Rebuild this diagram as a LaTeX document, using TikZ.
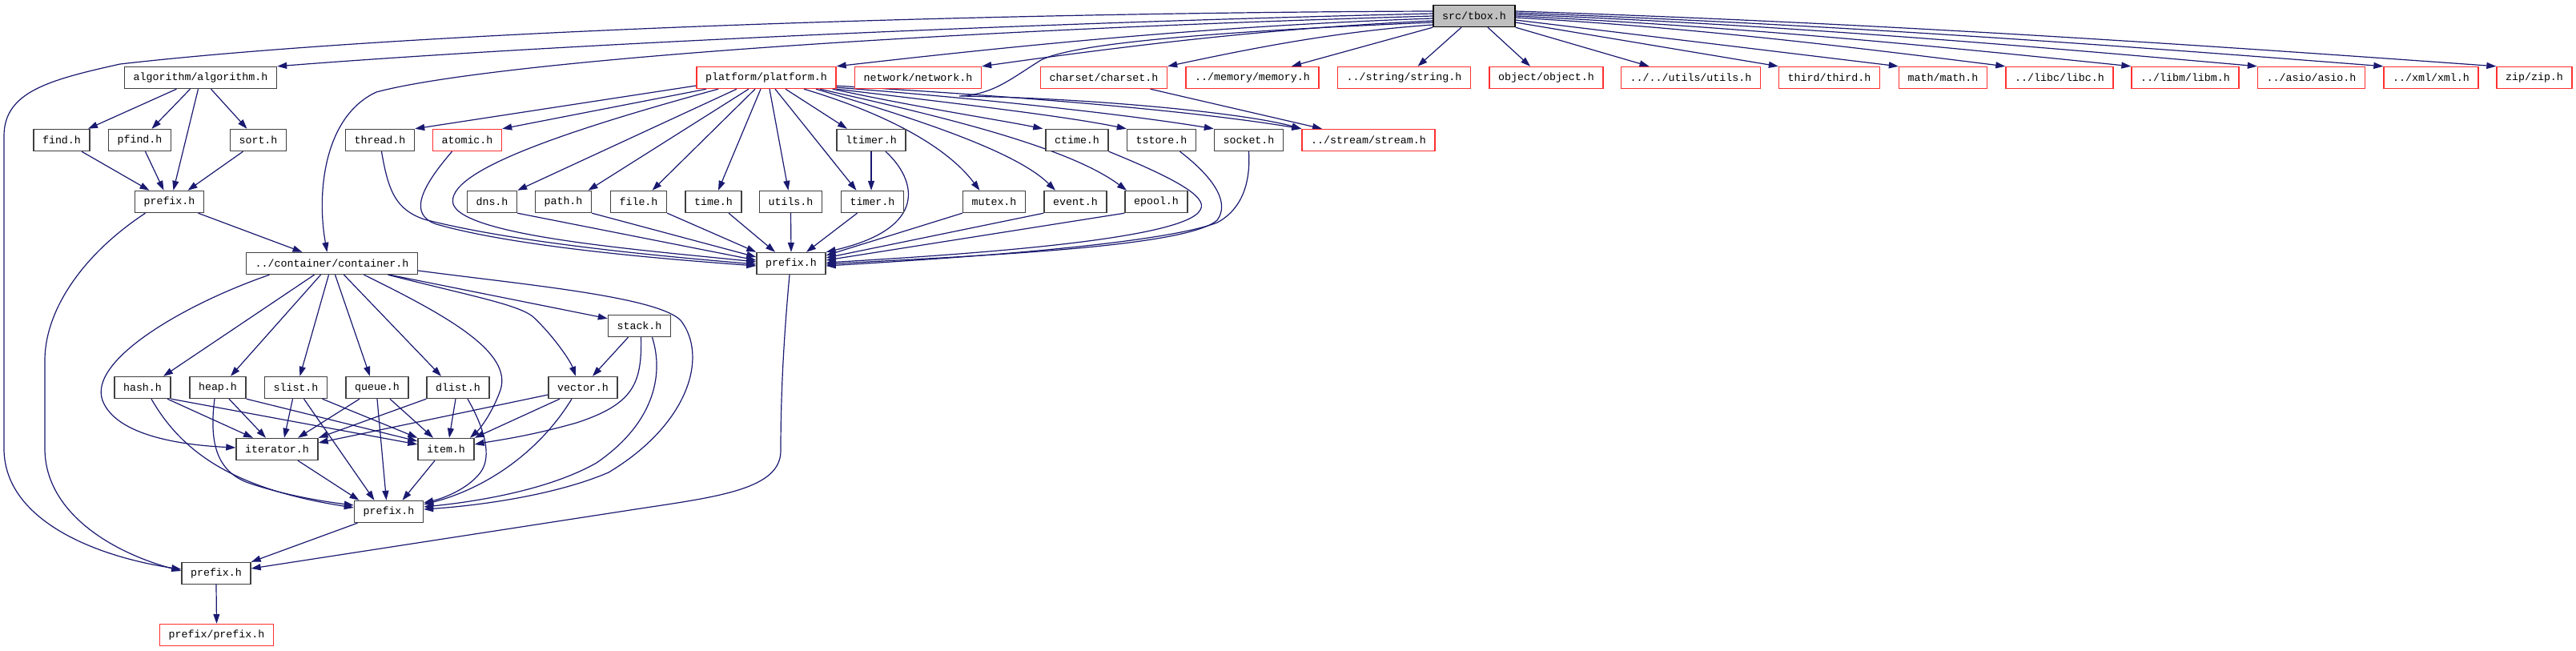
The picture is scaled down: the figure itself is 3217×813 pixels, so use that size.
\documentclass[tikz,border=0pt]{standalone}
\usepackage{fontspec}
\setmonofont{Liberation Mono}
\usetikzlibrary{arrows.meta}
\definecolor{edgec}{HTML}{191970}
\definecolor{bordc}{HTML}{404040}
\definecolor{redc}{HTML}{FF3030}
\definecolor{rootc}{HTML}{BFBFBF}
\pgfdeclarelayer{background}
\pgfsetlayers{background,main}
\begin{document}
\begin{tikzpicture}[x=1pt,y=-1pt,
 box/.style={draw=bordc, fill=white, line width=1.4pt, minimum height=27pt, inner sep=0pt, font=\ttfamily\fontsize{13.3}{15}\selectfont, text=black},
 rbox/.style={box, draw=redc},
 dep/.style={draw=edgec, line width=1.2pt, -{Triangle[length=12pt,width=8pt]}}]
\useasboundingbox (0,0) rectangle (3217,813);
% row 0
\node[box, fill=rootc, draw=black, minimum width=102pt] (tbox) at (1841,20) {src/tbox.h};
% row 1
\node[box, minimum width=190pt] (algorithm) at (250.5,97) {algorithm/algorithm.h};
\node[rbox, minimum width=174pt] (platform) at (957,97) {platform/platform.h};
\node[rbox, minimum width=158pt] (network) at (1146.5,97) {network/network.h};
\node[rbox, minimum width=158pt] (charset) at (1378.5,97) {charset/charset.h};
\node[rbox, minimum width=166pt] (memory) at (1564,97) {../memory/memory.h};
\node[rbox, minimum width=166pt] (string) at (1753.5,97) {../string/string.h};
\node[rbox, minimum width=142pt] (object) at (1931,97) {object/object.h};
\node[rbox, minimum width=174pt] (utilsu) at (2111.5,97) {../../utils/utils.h};
\node[rbox, minimum width=126pt] (third) at (2284.5,97) {third/third.h};
\node[rbox, minimum width=110pt] (math) at (2426.5,97) {math/math.h};
\node[rbox, minimum width=134pt] (libc) at (2572,97) {../libc/libc.h};
\node[rbox, minimum width=134pt] (libm) at (2729,97) {../libm/libm.h};
\node[rbox, minimum width=134pt] (asio) at (2886.5,97) {../asio/asio.h};
\node[rbox, minimum width=118pt] (xml) at (3036,97) {../xml/xml.h};
\node[rbox, minimum width=94pt] (zip) at (3165,97) {zip/zip.h};
% row 2
\node[box, minimum width=70pt] (find) at (77,175) {find.h};
\node[box, minimum width=78pt] (pfind) at (174.5,175) {pfind.h};
\node[box, minimum width=70pt] (sort) at (322.5,175) {sort.h};
\node[box, minimum width=86pt] (thread) at (474.5,175) {thread.h};
\node[rbox, minimum width=86pt] (atomic) at (583.5,175) {atomic.h};
\node[box, minimum width=86pt] (ltimer) at (1088,175) {ltimer.h};
\node[box, minimum width=78pt] (ctime) at (1345,175) {ctime.h};
\node[box, minimum width=86pt] (tstore) at (1450.5,175) {tstore.h};
\node[box, minimum width=86pt] (socket) at (1559.5,175) {socket.h};
\node[rbox, minimum width=166pt] (stream) at (1709,175) {../stream/stream.h};
% row 3
\node[box, minimum width=86pt] (prefA) at (211.5,252) {prefix.h};
\node[box, minimum width=62pt] (dns) at (614.5,252) {dns.h};
\node[box, minimum width=70pt] (path) at (703.5,252) {path.h};
\node[box, minimum width=70pt] (file) at (797.5,252) {file.h};
\node[box, minimum width=70pt] (time) at (891,252) {time.h};
\node[box, minimum width=78pt] (utilsh) at (987.5,252) {utils.h};
\node[box, minimum width=78pt] (timer) at (1089.5,252) {timer.h};
\node[box, minimum width=78pt] (mutex) at (1241.5,252) {mutex.h};
\node[box, minimum width=78pt] (event) at (1343,252) {event.h};
\node[box, minimum width=78pt] (epool) at (1444,252) {epool.h};
% row 4
\node[box, minimum width=214pt] (container) at (414.5,329) {../container/container.h};
\node[box, minimum width=86pt] (prefP) at (988,329) {prefix.h};
% row 5
\node[box, minimum width=78pt] (stack) at (798.5,407) {stack.h};
% row 6
\node[box, minimum width=70pt] (hash) at (178,484) {hash.h};
\node[box, minimum width=70pt] (heap) at (272,484) {heap.h};
\node[box, minimum width=78pt] (slist) at (369.5,484) {slist.h};
\node[box, minimum width=78pt] (queue) at (471,484) {queue.h};
\node[box, minimum width=78pt] (dlist) at (572,484) {dlist.h};
\node[box, minimum width=86pt] (vector) at (728,484) {vector.h};
% row 7
\node[box, minimum width=102pt] (iterator) at (346,561) {iterator.h};
\node[box, minimum width=70pt] (item) at (557,561) {item.h};
% row 8-10
\node[box, minimum width=86pt] (prefC) at (485.5,639) {prefix.h};
\node[box, minimum width=86pt] (prefM) at (270,716) {prefix.h};
\node[rbox, minimum width=142pt] (prefpref) at (270.5,793) {prefix/prefix.h};

\begin{pgfonlayer}{background}
% tbox to the left
\draw[dep] ([yshift=6]tbox.west) .. controls (1200,16) and (500,40) .. (150,80) .. controls (60,100) and (5,115) .. (5,170) -- (5,560) .. controls (5,650) and (120,695) .. ([yshift=5]prefM.west);
\draw[dep] ([yshift=3]tbox.west) .. controls (1300,28) and (700,55) .. (algorithm.north east);
\draw[dep] (tbox.west) .. controls (1100,40) and (600,80) .. (470,115) .. controls (405,145) and (395,240) .. ([xshift=-6]container.north);
\draw[dep] ([yshift=-3]tbox.west) .. controls (1529,32) and (1305,53) .. (platform.north east);
\draw[dep] ([yshift=-6]tbox.west) .. controls (1593,35) and (1423,55) .. (network.north east);
\draw[dep] ([yshift=-8]tbox.west) .. controls (1500,40) and (1340,55) .. (1300,75) .. controls (1260,100) and (1240,118) .. (1198,120) .. controls (1350,122) and (1550,140) .. (stream.north west);
\draw[dep] ([yshift=-11]tbox.west) .. controls (1674,39) and (1574,58) .. (charset.north east);
\draw[dep] (tbox.south west) -- ([xshift=49]memory.north);
\draw[dep] ([xshift=-16]tbox.south) -- ([xshift=17]string.north);
\draw[dep] ([xshift=17]tbox.south) -- ([xshift=-20]object.north);
\draw[dep] (tbox.south east) -- ([xshift=-52]utilsu.north);
% tbox to the right
\draw[dep] ([yshift=-8]tbox.east) -- (third.north west);
\draw[dep] ([yshift=-5]tbox.east) -- (math.north west);
\draw[dep] ([yshift=-2]tbox.east) .. controls (2107,34) and (2290,56) .. (libc.north west);
\draw[dep] (tbox.east) .. controls (2162,33) and (2393,55) .. (libm.north west);
\draw[dep] ([yshift=2]tbox.east) .. controls (2216,31) and (2495,54) .. (asio.north west);
\draw[dep] ([yshift=4]tbox.east) .. controls (2271,30) and (2596,53) .. (xml.north west);
\draw[dep] ([yshift=6]tbox.east) .. controls (2321,28) and (2689,52) .. (zip.north west);
% charset
\draw[dep] ([xshift=58]charset.south) -- ([xshift=-58]stream.north);
% algorithm
\draw[dep] ([xshift=-30]algorithm.south) -- ([xshift=33]find.north);
\draw[dep] ([xshift=-13]algorithm.south) -- ([xshift=15]pfind.north);
\draw[dep] ([xshift=-3]algorithm.south) -- ([xshift=5]prefA.north);
\draw[dep] ([xshift=13]algorithm.south) -- ([xshift=-14]sort.north);
\draw[dep] ([xshift=25]find.south) -- ([xshift=-25]prefA.north);
\draw[dep] ([xshift=7]pfind.south) -- ([xshift=-7]prefA.north);
\draw[dep] ([xshift=-19]sort.south) -- ([xshift=23]prefA.north);
\draw[dep] ([xshift=36]prefA.south) -- ([xshift=-37]container.north);
\draw[dep] ([xshift=-30]prefA.south) .. controls (100,320) and (56,390) .. (56,450) -- (56,560) .. controls (56,640) and (140,690) .. ([yshift=3]prefM.west);
% platform
\draw[dep] ([yshift=-10]platform.west) -- (thread.north east);
\draw[dep] ([xshift=-75]platform.south) -- (atomic.north east);
\draw[dep] ([xshift=-60]platform.south) .. controls (700,165) and (555,215) .. (566,255) .. controls (580,295) and (800,312) .. ([yshift=2]prefP.west);
\draw[dep] ([xshift=-37]platform.south) -- (dns.north east);
\draw[dep] ([xshift=-22]platform.south) -- ([xshift=31]path.north);
\draw[dep] ([xshift=-14]platform.south) -- ([xshift=17]file.north);
\draw[dep] ([xshift=-7]platform.south) -- ([xshift=6]time.north);
\draw[dep] ([xshift=4]platform.south) -- ([xshift=-3]utilsh.north);
\draw[dep] ([xshift=11]platform.south) -- ([xshift=-20]timer.north);
\draw[dep] ([xshift=24]platform.south) -- ([xshift=-30]ltimer.north);
\draw[dep] ([xshift=47]platform.south) .. controls (1100,140) and (1180,180) .. ([xshift=-18]mutex.north);
\draw[dep] ([xshift=62]platform.south) .. controls (1150,150) and (1270,190) .. ([xshift=-25]event.north);
\draw[dep] ([xshift=67]platform.south) .. controls (1150,140) and (1330,180) .. ([xshift=-37]epool.north);
\draw[dep] ([xshift=-5]platform.south east) .. controls (1150,135) and (1250,150) .. ([xshift=-3]ctime.north west);
\draw[dep] (platform.south east) .. controls (1200,130) and (1330,145) .. (tstore.north west);
\draw[dep] ([yshift=2]platform.south east) .. controls (1250,125) and (1420,145) .. (socket.north west);
\draw[dep] ([yshift=4]platform.south east) .. controls (1300,122) and (1500,140) .. (stream.north west);
% into platform prefix
\draw[dep] ([xshift=2]thread.south) .. controls (485,240) and (495,262) .. (530,274) .. controls (650,305) and (850,322) .. ([yshift=-1]prefP.west);
\draw[dep] ([xshift=-19]atomic.south) .. controls (525,235) and (510,268) .. (545,280) .. controls (650,310) and (850,325) .. ([yshift=-3]prefP.west);
\draw[dep] (dns.south east) -- ([yshift=4]prefP.west);
\draw[dep] (path.south east) -- ([yshift=8]prefP.west);
\draw[dep] (file.south east) -- (prefP.north west);
\draw[dep] ([xshift=19]time.south) -- ([xshift=-20]prefP.north);
\draw[dep] (utilsh.south) -- (prefP.north);
\draw[dep] ([xshift=-19]timer.south) -- ([xshift=19]prefP.north);
\draw[dep] (ltimer.south) -- ([xshift=-1.5]timer.north);
\draw[dep] ([xshift=18]ltimer.south) .. controls (1145,225) and (1160,285) .. (prefP.north east);
\draw[dep] (mutex.south west) -- ([yshift=10]prefP.east);
\draw[dep] (event.south west) -- ([yshift=7]prefP.east);
\draw[dep] (epool.south west) -- ([yshift=4]prefP.east);
\draw[dep] (ctime.south east) .. controls (1460,220) and (1510,245) .. (1499,262) .. controls (1480,300) and (1200,318) .. ([yshift=1]prefP.east);
\draw[dep] ([xshift=23]tstore.south) .. controls (1520,225) and (1535,255) .. (1520,275) .. controls (1480,310) and (1200,320) .. ([yshift=-1]prefP.east);
\draw[dep] (socket.south) .. controls (1562,230) and (1550,262) .. (1520,278) .. controls (1450,305) and (1200,322) .. ([yshift=-3]prefP.east);
\draw[dep] ([xshift=-2]prefP.south) .. controls (978,430) and (975,500) .. (975,563) .. controls (975,610) and (900,620) .. (800,635) -- ([yshift=6]prefM.east);
% container
\draw[dep] ([xshift=-78]container.south) .. controls (230,380) and (110,450) .. (128,500) .. controls (145,545) and (230,556) .. ([yshift=2]iterator.west);
\draw[dep] ([xshift=-22]container.south) -- ([xshift=26]hash.north);
\draw[dep] ([xshift=-14]container.south) -- ([xshift=16]heap.north);
\draw[dep] ([xshift=-4]container.south) -- ([xshift=5]slist.north);
\draw[dep] ([xshift=4]container.south) -- ([xshift=-9]queue.north);
\draw[dep] ([xshift=15]container.south) -- ([xshift=-21]dlist.north);
\draw[dep] ([xshift=40]container.south) .. controls (560,395) and (640,440) .. (625,487) .. controls (615,515) and (600,535) .. ([xshift=30]item.north);
\draw[dep] ([xshift=70]container.south) .. controls (590,370) and (645,380) .. (665,395) .. controls (690,418) and (712,450) .. ([xshift=-9]vector.north);
\draw[dep] ([xshift=72]container.south) -- ([yshift=-5]stack.north west);
\draw[dep] ([yshift=-9]container.east) .. controls (650,355) and (820,370) .. (850,400) .. controls (885,445) and (860,530) .. (760,590) .. controls (690,620) and (590,632) .. ([yshift=3]prefC.east);
% stack
\draw[dep] ([xshift=-14]stack.south) -- ([xshift=12]vector.north);
\draw[dep] ([xshift=2]stack.south) .. controls (802,480) and (790,505) .. (720,528) .. controls (660,545) and (620,550) .. ([yshift=6]item.east);
\draw[dep] ([xshift=16]stack.south) .. controls (830,470) and (815,530) .. (745,578) .. controls (680,615) and (580,628) .. ([yshift=6]prefC.east);
% row 6
\draw[dep] ([xshift=31]hash.south) -- ([xshift=-30]iterator.north);
\draw[dep] (hash.south east) -- ([yshift=6]item.west);
\draw[dep] ([xshift=11]hash.south) .. controls (230,570) and (300,612) .. ([yshift=5]prefC.west);
\draw[dep] ([xshift=14]heap.south) -- ([xshift=-14]iterator.north);
\draw[dep] (heap.south east) -- ([yshift=10]item.west);
\draw[dep] ([xshift=-4]heap.south) .. controls (260,560) and (275,590) .. (310,603) .. controls (360,620) and (410,627) .. ([yshift=8]prefC.west);
\draw[dep] ([xshift=-4]slist.south) -- ([xshift=9]iterator.north);
\draw[dep] ([xshift=33]slist.south) -- (item.north west);
\draw[dep] ([xshift=10]slist.south) -- ([xshift=-18]prefC.north);
\draw[dep] ([xshift=-22]queue.south) -- ([xshift=26]iterator.north);
\draw[dep] ([xshift=16]queue.south) -- ([xshift=-16]item.north);
\draw[dep] (queue.south) -- ([xshift=-3]prefC.north);
\draw[dep] (dlist.south west) -- (iterator.north east);
\draw[dep] ([xshift=-3]dlist.south) -- ([xshift=4]item.north);
\draw[dep] ([xshift=12]dlist.south) .. controls (605,535) and (615,570) .. (600,590) .. controls (585,610) and (555,622) .. ([yshift=11]prefC.east);
\draw[dep] ([yshift=-9]vector.west) -- ([yshift=8]iterator.east);
\draw[dep] ([xshift=-29]vector.south) -- (item.north east);
\draw[dep] ([xshift=-14]vector.south) .. controls (670,570) and (600,612) .. ([yshift=9]prefC.east);
% row 7-9
\draw[dep] ([xshift=26]iterator.south) -- ([xshift=-37]prefC.north);
\draw[dep] ([xshift=-14]item.south) -- ([xshift=17]prefC.north);
\draw[dep] ([xshift=-39]prefC.south) -- (prefM.north east);
\draw[dep] (prefM.south) -- (prefpref.north);
\end{pgfonlayer}
\end{tikzpicture}
\end{document}
